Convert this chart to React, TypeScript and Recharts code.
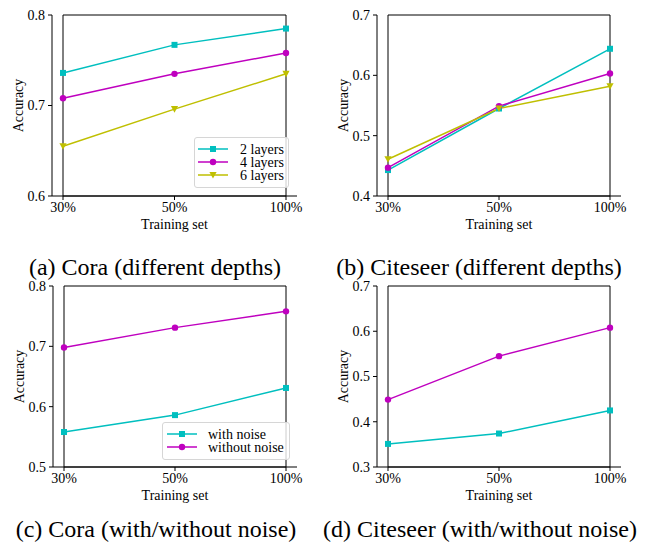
import React from "react"
import { LineChart, Line, XAxis, YAxis, ReferenceArea } from "recharts"

const trainingSets = ["30%", "50%", "100%"]

// (a) Cora, different depths
const cora2Layers = [0.736, 0.767, 0.785]
const cora4Layers = [0.708, 0.735, 0.758]
const cora6Layers = [0.655, 0.696, 0.735]

// (b) Citeseer, different depths
const citeseer2Layers = [0.443, 0.545, 0.644]
const citeseer4Layers = [0.447, 0.549, 0.603]
const citeseer6Layers = [0.461, 0.545, 0.582]

// (c) Cora, with/without noise
const coraWithNoise = [0.558, 0.586, 0.631]
const coraWithoutNoise = [0.698, 0.731, 0.758]

// (d) Citeseer, with/without noise
const citeseerWithNoise = [0.351, 0.374, 0.425]
const citeseerWithoutNoise = [0.449, 0.545, 0.608]

const coraDepthTicks = [0.6, 0.7, 0.8]
const citeseerDepthTicks = [0.4, 0.5, 0.6, 0.7]
const coraNoiseTicks = [0.5, 0.6, 0.7, 0.8]
const citeseerNoiseTicks = [0.3, 0.4, 0.5, 0.6, 0.7]

const W = 647
const H = 544
const FONT = '"Liberation Serif", "Times New Roman", Times, serif'
const CYAN = "#00bfbf"
const MAGENTA = "#bf00bf"
const OLIVE = "#bfbf00"

type Marker = "square" | "circle" | "triangle"

interface Series {
  key: string
  name: string
  color: string
  marker: Marker
  values: number[]
}

interface Rect {
  left: number
  top: number
  right: number
  bottom: number
}

interface PanelProps {
  series: Series[]
  plot: Rect
  ticks: number[]
  legend?: { left: number; top: number; width: number; height: number; lineX: number; textX: number }
  caption: { text: string; cx: number; baseline: number }
}

const MarkerShape = ({ cx, cy, color, marker }: { cx: number; cy: number; color: string; marker: Marker }) => {
  if (marker === "square") return <rect x={cx - 3} y={cy - 3} width={6} height={6} fill={color} />
  if (marker === "circle") return <circle cx={cx} cy={cy} r={3.2} fill={color} />
  return <polygon points={`${cx - 3.6},${cy - 3} ${cx + 3.6},${cy - 3} ${cx},${cy + 3.6}`} fill={color} />
}

function Panel({ series, plot, ticks, legend, caption }: PanelProps) {
  const data = trainingSets.map((t, i) => {
    const row: Record<string, string | number> = { set: t }
    series.forEach((s) => (row[s.key] = s.values[i]))
    return row
  })
  const domain = [ticks[0], ticks[ticks.length - 1]]
  const yW = 40
  const xH = 34
  const pad = Math.round((plot.right - plot.left) * 0.045)

  return (
    <>
      <div style={{ position: "absolute", left: 0, top: 0 }}>
        <LineChart
          width={W}
          height={H}
          data={data}
          margin={{ top: plot.top, left: plot.left - yW, right: W - plot.right, bottom: H - plot.bottom - xH }}
        >
          <ReferenceArea y1={domain[0]} y2={domain[1]} fill="none" stroke="#000" strokeWidth={1} fillOpacity={0} />
          <XAxis
            dataKey="set"
            height={xH}
            padding={{ left: pad, right: pad }}
            axisLine={{ stroke: "#000" }}
            tickLine={{ stroke: "#000" }}
            tickSize={4}
            tickMargin={2}
            tick={{ fill: "#000", fontSize: 14, fontFamily: FONT }}
            label={{
              content: ({ viewBox }: any) => (
                <text
                  x={viewBox.x + viewBox.width / 2}
                  y={viewBox.y + 33}
                  textAnchor="middle"
                  fontSize={14}
                  fontFamily={FONT}
                  fill="#000"
                >
                  Training set
                </text>
              ),
            }}
          />
          <YAxis
            width={yW}
            domain={domain}
            ticks={ticks}
            type="number"
            axisLine={{ stroke: "#000" }}
            tickLine={{ stroke: "#000" }}
            tickSize={4}
            tickMargin={3}
            tickFormatter={(v: number) => v.toFixed(1)}
            tick={{ fill: "#000", fontSize: 14, fontFamily: FONT }}
            label={{
              content: ({ viewBox }: any) => {
                const x = viewBox.x + 11
                const y = viewBox.y + viewBox.height / 2
                return (
                  <text
                    x={x}
                    y={y}
                    transform={`rotate(-90 ${x} ${y})`}
                    textAnchor="middle"
                    fontSize={14}
                    fontFamily={FONT}
                    fill="#000"
                  >
                    Accuracy
                  </text>
                )
              },
            }}
          />
          {series.map((s) => (
            <Line
              key={s.key}
              dataKey={s.key}
              name={s.name}
              stroke={s.color}
              strokeWidth={1.5}
              isAnimationActive={false}
              dot={(p: any) => <MarkerShape key={`${s.key}-${p.index}`} cx={p.cx} cy={p.cy} color={s.color} marker={s.marker} />}
              activeDot={false}
            />
          ))}
        </LineChart>
      </div>
      {legend && (
        <div
          style={{
            position: "absolute",
            left: legend.left,
            top: legend.top,
            width: legend.width,
            height: legend.height,
            border: "1px solid #d6d6d6",
            borderRadius: 3,
            background: "rgba(255,255,255,0.8)",
            boxSizing: "border-box",
          }}
        >
          <svg width={legend.width} height={legend.height} style={{ position: "absolute", left: -1, top: -1 }}>
            {series.map((s, i) => {
              const y = 12 + i * 13
              const x0 = legend.lineX - legend.left
              return (
                <g key={s.key}>
                  <line x1={x0} x2={x0 + 30} y1={y} y2={y} stroke={s.color} strokeWidth={1.5} />
                  <MarkerShape cx={x0 + 15} cy={y} color={s.color} marker={s.marker} />
                  <text x={legend.textX - legend.left} y={y + 4.5} fontSize={14} fontFamily={FONT} fill="#000">
                    {s.name}
                  </text>
                </g>
              )
            })}
          </svg>
        </div>
      )}
      <svg width={W} height={H} style={{ position: "absolute", left: 0, top: 0, pointerEvents: "none" }}>
        <text x={caption.cx} y={caption.baseline} textAnchor="middle" fontSize={24} fontFamily={FONT} fill="#000">
          {caption.text}
        </text>
      </svg>
    </>
  )
}

export default function App() {
  const depthSeries = (a: number[], b: number[], c: number[]): Series[] => [
    { key: "l2", name: "2 layers", color: CYAN, marker: "square", values: a },
    { key: "l4", name: "4 layers", color: MAGENTA, marker: "circle", values: b },
    { key: "l6", name: "6 layers", color: OLIVE, marker: "triangle", values: c },
  ]
  const noiseSeries = (a: number[], b: number[]): Series[] => [
    { key: "wn", name: "with noise", color: CYAN, marker: "square", values: a },
    { key: "won", name: "without noise", color: MAGENTA, marker: "circle", values: b },
  ]

  return (
    <div style={{ position: "fixed", left: 0, top: 0, width: W, height: H, background: "#fff", overflow: "hidden" }}>
      <Panel
        series={depthSeries(cora2Layers, cora4Layers, cora6Layers)}
        plot={{ left: 52, top: 15, right: 297, bottom: 196 }}
        ticks={coraDepthTicks}
        legend={{ left: 194, top: 137, width: 95, height: 51, lineX: 198, textX: 240 }}
        caption={{ text: "(a) Cora (different depths)", cx: 155, baseline: 275 }}
      />
      <Panel
        series={depthSeries(citeseer2Layers, citeseer4Layers, citeseer6Layers)}
        plot={{ left: 377, top: 15, right: 621, bottom: 196 }}
        ticks={citeseerDepthTicks}
        caption={{ text: "(b) Citeseer (different depths)", cx: 479, baseline: 275 }}
      />
      <Panel
        series={noiseSeries(coraWithNoise, coraWithoutNoise)}
        plot={{ left: 53, top: 286, right: 297, bottom: 467 }}
        ticks={coraNoiseTicks}
        legend={{ left: 162, top: 422, width: 128, height: 38, lineX: 167, textX: 208 }}
        caption={{ text: "(c) Cora (with/without noise)", cx: 156, baseline: 537 }}
      />
      <Panel
        series={noiseSeries(citeseerWithNoise, citeseerWithoutNoise)}
        plot={{ left: 377, top: 286, right: 621, bottom: 467 }}
        ticks={citeseerNoiseTicks}
        caption={{ text: "(d) Citeseer (with/without noise)", cx: 480, baseline: 537 }}
      />
    </div>
  )
}
